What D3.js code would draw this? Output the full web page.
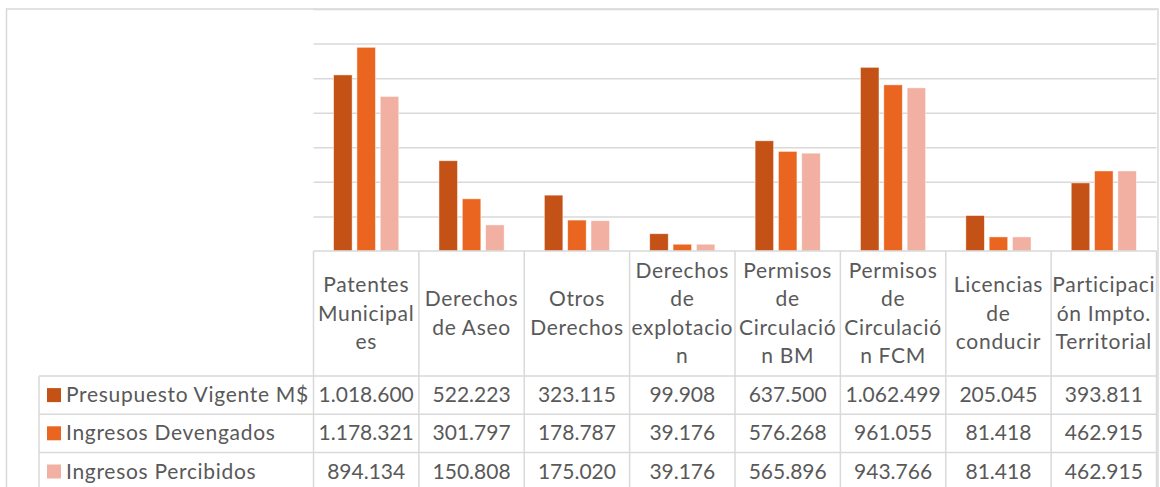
<!DOCTYPE html>
<html>
<head>
<meta charset="utf-8">
<script src="https://cdn.jsdelivr.net/npm/d3@7/dist/d3.min.js"></script>
<style>
  html, body { margin: 0; padding: 0; background: #fff; }
  svg { display: block; font-family: Lato, "Noto Sans", sans-serif; }
</style>
</head>
<body>
<svg id="chart" width="1160" height="487"></svg>
<script>
// ---------- data ----------
const categories = [
  "Patentes Municipales", "Derechos de Aseo", "Otros Derechos", "Derechos de explotacion",
  "Permisos de Circulación BM", "Permisos de Circulación FCM", "Licencias de conducir",
  "Participación Impto. Territorial"
];
const categoryLines = [
  ["Patentes", "Municipal", "es"],
  ["Derechos", "de Aseo"],
  ["Otros", "Derechos"],
  ["Derechos", "de", "explotacio", "n"],
  ["Permisos", "de", "Circulació", "n BM"],
  ["Permisos", "de", "Circulació", "n FCM"],
  ["Licencias", "de", "conducir"],
  ["Participaci", "ón Impto.", "Territorial"]
];
const seriesNames = ["Presupuesto Vigente M$", "Ingresos Devengados", "Ingresos Percibidos"];
const presupuestoVigente = [1018600, 522223, 323115, 99908, 637500, 1062499, 205045, 393811];
const ingresosDevengados = [1178321, 301797, 178787, 39176, 576268, 961055, 81418, 462915];
const ingresosPercibidos = [894134, 150808, 175020, 39176, 565896, 943766, 81418, 462915];
const yTicks = [0, 200000, 400000, 600000, 800000, 1000000, 1200000, 1400000];
const seriesColors = ["#C45216", "#EA651F", "#F1B0A1"];

const seriesValues = [presupuestoVigente, ingresosDevengados, ingresosPercibidos];

// ---------- layout ----------
const svg = d3.select("#chart");
const gridColor = "#d9d9d9";
const textColor = "#595959";
const fontSize = 21;
const labelSpacing = 0.7;
const plotLeft = 313.5, plotRight = 1156.5;
const baseY = 251, topY = 9;
const headerBottom = 376;
const rowH = 38.2;
const legendLeft = 39;

const x = d3.scaleBand().domain(categories).range([plotLeft, plotRight]).paddingInner(0).paddingOuter(0);
const xs = d3.scaleBand().domain(seriesNames).range([0, x.bandwidth()]).paddingInner(0.207).paddingOuter(0.862);
const y = d3.scaleLinear().domain([0, 1400000]).range([baseY, topY]);

const fmt = d3.formatLocale({ decimal: ",", thousands: ".", grouping: [3], currency: ["$", ""] }).format(",d");

// chart outer border
svg.append("rect")
  .attr("x", 6.5).attr("y", 9).attr("width", 1151.5).attr("height", 500)
  .attr("fill", "none").attr("stroke", gridColor).attr("stroke-width", 1.5);

// gridlines via axis
const yAxis = d3.axisLeft(y).tickValues(yTicks.slice(1)).tickSize(-(plotRight - plotLeft)).tickFormat("");
const gAxis = svg.append("g").attr("transform", `translate(${plotLeft},0)`).call(yAxis);
gAxis.select(".domain").remove();
gAxis.selectAll(".tick line").attr("stroke", gridColor).attr("stroke-width", 1.5);

// bars
const barData = [];
categories.forEach((c, i) => {
  seriesNames.forEach((s, j) => barData.push({ cat: c, ser: s, val: seriesValues[j][i], j }));
});
svg.append("g").selectAll("rect").data(barData).join("rect")
  .attr("x", d => x(d.cat) + xs(d.ser))
  .attr("y", d => y(d.val))
  .attr("width", xs.bandwidth())
  .attr("height", d => baseY - y(d.val))
  .attr("fill", d => seriesColors[d.j])
  .attr("stroke", "#ffffff").attr("stroke-opacity", 0.6).attr("stroke-width", 0.75);

// ---------- data table ----------
const tbl = svg.append("g");
const rowTops = seriesNames.map((s, i) => headerBottom + i * rowH);
tbl.append("line").attr("x1", plotLeft).attr("x2", plotRight).attr("y1", baseY).attr("y2", baseY)
  .attr("stroke", gridColor).attr("stroke-width", 1.5);
[headerBottom, ...rowTops.map(t => t + rowH)].forEach(yy => {
  tbl.append("line").attr("x1", legendLeft).attr("x2", plotRight).attr("y1", yy).attr("y2", yy)
    .attr("stroke", gridColor).attr("stroke-width", 1.5);
});
d3.range(categories.length + 1).forEach(i => {
  const xx = plotLeft + i * x.step();
  tbl.append("line").attr("x1", xx).attr("x2", xx).attr("y1", baseY).attr("y2", 490)
    .attr("stroke", gridColor).attr("stroke-width", 1.5);
});
tbl.append("line").attr("x1", legendLeft).attr("x2", legendLeft).attr("y1", headerBottom).attr("y2", 490)
  .attr("stroke", gridColor).attr("stroke-width", 1.5);

// header labels
const pitch = 28.5;
const headerCenter = (baseY + headerBottom) / 2;
categories.forEach((c, i) => {
  const lines = categoryLines[i];
  const cx = x(c) + x.bandwidth() / 2;
  const first = headerCenter - (lines.length - 1) / 2 * pitch + 7;
  const t = tbl.append("text").attr("text-anchor", "middle").attr("fill", textColor)
    .attr("font-size", fontSize).attr("letter-spacing", labelSpacing);
  lines.forEach((ln, k) => {
    t.append("tspan").attr("x", cx).attr("y", first + k * pitch).text(ln);
  });
});

// rows
seriesNames.forEach((s, j) => {
  const cy = rowTops[j] + rowH / 2;
  tbl.append("rect").attr("x", 47).attr("y", cy - 7).attr("width", 14).attr("height", 14)
    .attr("fill", seriesColors[j]);
  tbl.append("text").attr("x", 66).attr("y", cy + 7).attr("fill", textColor)
    .attr("font-size", fontSize).attr("letter-spacing", labelSpacing).text(s);
  categories.forEach((c, i) => {
    tbl.append("text").attr("x", x(c) + x.bandwidth() / 2).attr("y", cy + 7)
      .attr("text-anchor", "middle").attr("fill", textColor).attr("font-size", fontSize)
      .text(fmt(seriesValues[j][i]));
  });
});
</script>
</body>
</html>
